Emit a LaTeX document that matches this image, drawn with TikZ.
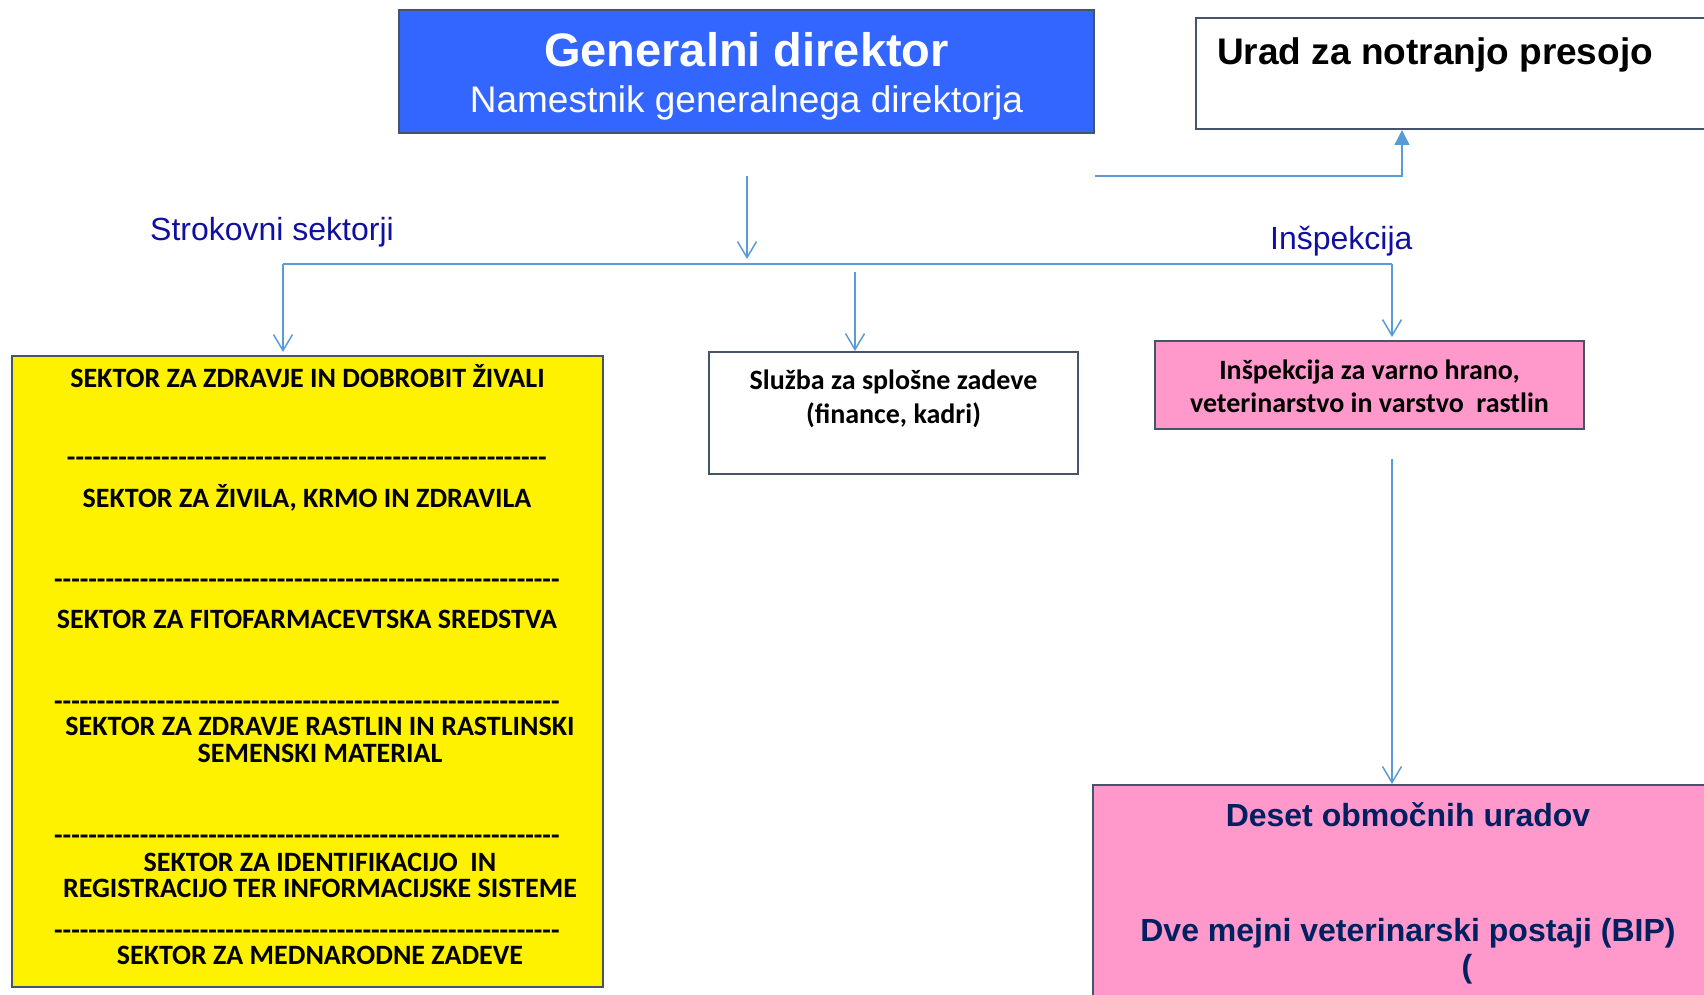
\documentclass[tikz,border=0pt]{standalone}
\usepackage{fontspec}
\setmainfont{Liberation Sans}
\newfontfamily\calfont{Carlito}
\usetikzlibrary{arrows.meta, positioning}

\definecolor{gdblue}{HTML}{3366FF}
\definecolor{frame}{HTML}{44546A}
\definecolor{wireblue}{HTML}{5B9BD5}
\definecolor{navy}{HTML}{1010A0}
\definecolor{rose}{HTML}{FF99CC}
\definecolor{deepnavy}{HTML}{002060}

\tikzstyle{box} = [draw=frame, line width=2pt, rectangle, inner sep=0pt]
\tikzstyle{wire} = [draw=wireblue, line width=1.5pt]
\tikzstyle{arrow} = [wire, -{Straight Barb[length=16pt,width=19pt]}]
\tikzstyle{uparrow} = [wire, -{Triangle[length=15pt,width=15pt]}]
\tikzstyle{branch} = [text=navy, font=\fontsize{32}{38}\selectfont, anchor=base west, inner sep=0pt]
\tikzstyle{sektor} = [font=\calfont\bfseries\fontsize{28}{34}\selectfont, anchor=base, inner sep=0pt]
\tikzstyle{office} = [text=deepnavy, font=\bfseries\fontsize{32}{38}\selectfont, anchor=base, inner sep=0pt]

\newcommand\crta[1]{\foreach \k in {1,...,#1}{-}}

\begin{document}
\begin{tikzpicture}[x=1pt, y=-1pt]
    \useasboundingbox (0,0) rectangle (1704,995);
    \clip (0,0) rectangle (1704,995);

    % boxes
    \node[box, fill=gdblue, minimum width=695pt, minimum height=123pt] (gd) at (746.5,71.5) {};
    \node[box, fill=white, minimum width=524pt, minimum height=111pt] (urad) at (1458,73.5) {};
    \node[box, fill=white, minimum width=369pt, minimum height=122pt] (sluzba) at (893.5,413) {};
    \node[box, fill=rose, minimum width=429pt, minimum height=88pt] (insp) at (1369.5,385) {};
    \node[box, fill=yellow, minimum width=591pt, minimum height=631pt] (sektorji) at (307.5,671.5) {};
    \node[box, fill=rose, minimum width=630pt, minimum height=225pt] (deset) at (1408,897.5) {};

    % texts
    \node[anchor=base, inner sep=0pt, text=white, font=\bfseries\fontsize{47}{56}\selectfont] (gdTitle) at (746.5,67) {Generalni direktor};
    \node[anchor=base, inner sep=0pt, text=white, font=\fontsize{37}{44}\selectfont] (gdSub) at (746.5,113) {Namestnik generalnega direktorja};
    \node[anchor=base west, inner sep=0pt, font=\bfseries\fontsize{37}{44}\selectfont] (uradText) at (1217,65) {Urad za notranjo presojo};
    \node[branch] (strokovni) at (150,240) {Strokovni sektorji};
    \node[branch] (inspekcija) at (1270,249) {Inšpekcija};
    \node[sektor] (sluzbaA) at (893.5,389) {Služba za splošne zadeve};
    \node[sektor] (sluzbaB) at (893.5,423) {(finance, kadri)};
    \node[sektor] (inspA) at (1369.5,379) {Inšpekcija za varno hrano,};
    \node[sektor] (inspB) at (1369.5,412) {veterinarstvo in varstvo~ rastlin};
    \node[office] (desetA) at (1408,826) {Deset območnih uradov};
    \node[office] (desetB) at (1408,941) {Dve mejni veterinarski postaji (BIP)};
    \node[office] (desetC) at (1467,977) {(};

    \foreach \x/\y/\t/\n in {307.5/387/{SEKTOR ZA ZDRAVJE IN DOBROBIT ŽIVALI}/s1,
        307/466/{\crta{56}}/d1,
        307/507/{SEKTOR ZA ŽIVILA, KRMO IN ZDRAVILA}/s2,
        307/588/{\crta{59}}/d2,
        307/628/{SEKTOR ZA FITOFARMACEVTSKA SREDSTVA}/s3,
        307/710/{\crta{59}}/d3,
        320/735/{SEKTOR ZA ZDRAVJE RASTLIN IN RASTLINSKI}/s4a,
        320/762/{SEMENSKI MATERIAL}/s4b,
        307/844/{\crta{59}}/d4,
        320/871/{SEKTOR ZA IDENTIFIKACIJO~ IN}/s5a,
        320/897/{REGISTRACIJO TER INFORMACIJSKE SISTEME}/s5b,
        307/939/{\crta{59}}/d5,
        320/964/{SEKTOR ZA MEDNARODNE ZADEVE}/s6}
        \node[sektor] (\n) at (\x,\y) {\t};

    % connectors
    \coordinate (gdOut) at (747,176);
    \coordinate (uradOut) at (gd.east |- gdOut);
    \coordinate (busW) at (283,264);
    \coordinate (busE) at (1392,264);
    \coordinate (sluzbaIn) at (855,272);
    \coordinate (inspOut) at (1392,459);

    \draw[uparrow] (uradOut) -| ([xshift=207pt]urad.south west);
    \draw[arrow, shorten >=5pt] (gdOut) -- (gdOut |- busW);
    \draw[wire] (busW) -- (busE);
    \draw[arrow, shorten >=3pt] (busW) -- (busW |- sektorji.north);
    \draw[arrow] (sluzbaIn) -- (sluzbaIn |- sluzba.north);
    \draw[arrow, shorten >=3pt] (busE) -- (busE |- insp.north);
    \draw[arrow] (inspOut) -- (inspOut |- deset.north);
\end{tikzpicture}
\end{document}
